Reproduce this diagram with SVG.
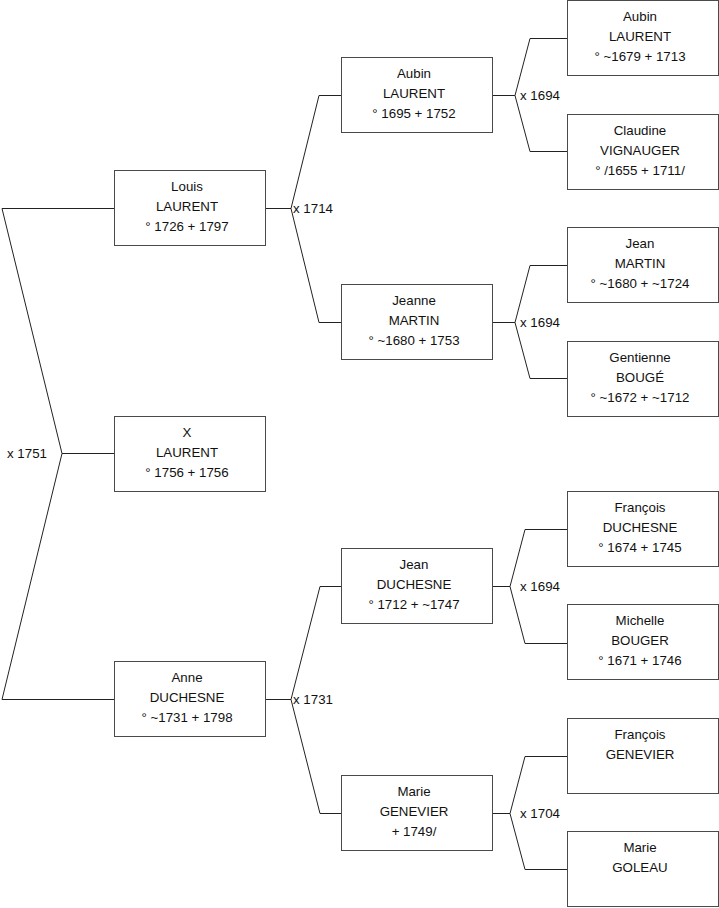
<svg xmlns="http://www.w3.org/2000/svg" width="719" height="908" viewBox="0 0 719 908">
<style>
.box{fill:#fff;stroke:#4a4a4a;stroke-width:1}
.ln{fill:none;stroke:#222;stroke-width:1}
text{font-family:"Liberation Sans",Arial,sans-serif;font-size:13.3px;fill:#111}
.c{text-anchor:middle}
</style>
<rect width="719" height="908" fill="#fff"/>
<g id="connectors">
<path class="ln" d="M114.5,453.5H62L2,208.5H114.5M62,453.5L2,699.5H114.5"/>
<path class="ln" d="M265.5,208.5H291L319,95.5H341.5M291,208.5L319,322.5H341.5"/>
<path class="ln" d="M265.5,699.5H291L320,586.5H341.5M291,699.5L320,813.5H341.5"/>
<path class="ln" d="M492.5,95.5H515L530,38.5H567.5M515,95.5L530,151.5H567.5"/>
<path class="ln" d="M492.5,322.5H515L530,265.5H567.5M515,322.5L530,378.5H567.5"/>
<path class="ln" d="M492.5,586.5H510L525,529.5H567.5M510,586.5L525,643.5H567.5"/>
<path class="ln" d="M492.5,813.5H510L525,756.5H567.5M510,813.5L525,869.5H567.5"/>
<text x="7" y="457.5">x 1751</text>
<text x="293" y="212.5">x 1714</text>
<text x="293" y="703.5">x 1731</text>
<text x="520" y="99.5">x 1694</text>
<text x="520" y="326.5">x 1694</text>
<text x="520" y="590.5">x 1694</text>
<text x="520" y="817.5">x 1704</text>
</g>
<g id="louis-laurent"><rect class="box" x="114.5" y="170.5" width="151" height="75"/><text class="c" x="187" y="191">Louis</text><text class="c" x="187" y="211">LAURENT</text><text class="c" x="187" y="231">° 1726 + 1797</text></g>
<g id="x-laurent"><rect class="box" x="114.5" y="416.5" width="151" height="75"/><text class="c" x="187" y="437">X</text><text class="c" x="187" y="457">LAURENT</text><text class="c" x="187" y="477">° 1756 + 1756</text></g>
<g id="anne-duchesne"><rect class="box" x="114.5" y="661.5" width="151" height="75"/><text class="c" x="187" y="682">Anne</text><text class="c" x="187" y="702">DUCHESNE</text><text class="c" x="187" y="722">° ~1731 + 1798</text></g>
<g id="aubin-laurent-1695"><rect class="box" x="341.5" y="57.5" width="151" height="75"/><text class="c" x="414" y="78">Aubin</text><text class="c" x="414" y="98">LAURENT</text><text class="c" x="414" y="118">° 1695 + 1752</text></g>
<g id="jeanne-martin"><rect class="box" x="341.5" y="284.5" width="151" height="75"/><text class="c" x="414" y="305">Jeanne</text><text class="c" x="414" y="325">MARTIN</text><text class="c" x="414" y="345">° ~1680 + 1753</text></g>
<g id="jean-duchesne"><rect class="box" x="341.5" y="548.5" width="151" height="75"/><text class="c" x="414" y="569">Jean</text><text class="c" x="414" y="589">DUCHESNE</text><text class="c" x="414" y="609">° 1712 + ~1747</text></g>
<g id="marie-genevier"><rect class="box" x="341.5" y="775.5" width="151" height="75"/><text class="c" x="414" y="796">Marie</text><text class="c" x="414" y="816">GENEVIER</text><text class="c" x="414" y="836">+ 1749/</text></g>
<g id="aubin-laurent-1679"><rect class="box" x="567.5" y="0.5" width="151" height="75"/><text class="c" x="640" y="21">Aubin</text><text class="c" x="640" y="41">LAURENT</text><text class="c" x="640" y="61">° ~1679 + 1713</text></g>
<g id="claudine-vignauger"><rect class="box" x="567.5" y="114.5" width="151" height="75"/><text class="c" x="640" y="135">Claudine</text><text class="c" x="640" y="155">VIGNAUGER</text><text class="c" x="640" y="175">° /1655 + 1711/</text></g>
<g id="jean-martin"><rect class="box" x="567.5" y="227.5" width="151" height="75"/><text class="c" x="640" y="248">Jean</text><text class="c" x="640" y="268">MARTIN</text><text class="c" x="640" y="288">° ~1680 + ~1724</text></g>
<g id="gentienne-bouge"><rect class="box" x="567.5" y="341.5" width="151" height="75"/><text class="c" x="640" y="362">Gentienne</text><text class="c" x="640" y="382">BOUGÉ</text><text class="c" x="640" y="402">° ~1672 + ~1712</text></g>
<g id="francois-duchesne"><rect class="box" x="567.5" y="491.5" width="151" height="75"/><text class="c" x="640" y="512">François</text><text class="c" x="640" y="532">DUCHESNE</text><text class="c" x="640" y="552">° 1674 + 1745</text></g>
<g id="michelle-bouger"><rect class="box" x="567.5" y="604.5" width="151" height="75"/><text class="c" x="640" y="625">Michelle</text><text class="c" x="640" y="645">BOUGER</text><text class="c" x="640" y="665">° 1671 + 1746</text></g>
<g id="francois-genevier"><rect class="box" x="567.5" y="718.5" width="151" height="75"/><text class="c" x="640" y="739">François</text><text class="c" x="640" y="759">GENEVIER</text></g>
<g id="marie-goleau"><rect class="box" x="567.5" y="831.5" width="151" height="75"/><text class="c" x="640" y="852">Marie</text><text class="c" x="640" y="872">GOLEAU</text></g>
</svg>
